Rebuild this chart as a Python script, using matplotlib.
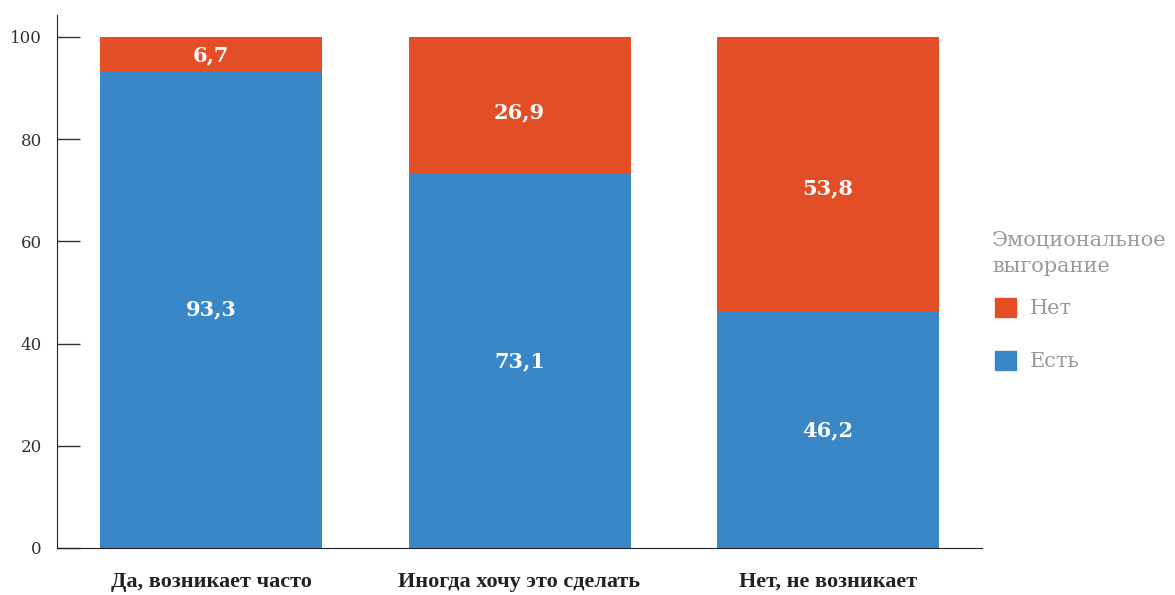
import matplotlib.pyplot as plt
from matplotlib.patches import Patch

categories = ['Да, возникает часто', 'Иногда хочу это сделать', 'Нет, не возникает']
est = [93.3, 73.1, 46.2]
net = [6.7, 26.9, 53.8]

blue = '#3a87c8'
red = '#e34e26'

plt.rcParams['font.family'] = ['DejaVu Serif']

fig = plt.figure(figsize=(11.75, 5.95), dpi=100)
ax = fig.add_axes([57 / 1175, 47 / 595, 925 / 1175, 533 / 595])

x = range(len(categories))
ax.bar(x, est, width=0.72, color=blue)
ax.bar(x, net, width=0.72, bottom=est, color=red)

for i in x:
    ax.text(i, est[i] / 2, f'{est[i]:.1f}'.replace('.', ','), ha='center', va='center',
            color='white', fontsize=15, fontweight='bold')
    # labels in the red part sit a bit below the middle, as in the original
    ax.text(i, est[i] + net[i] * 0.45, f'{net[i]:.1f}'.replace('.', ','), ha='center', va='center',
            color='white', fontsize=15, fontweight='bold')

ax.set_xlim(-0.5, 2.5)
ax.set_ylim(0, 104.3)
ax.set_yticks([0, 20, 40, 60, 80, 100])
ax.set_xticks(list(x))
ax.set_xticklabels(categories, fontsize=16, fontweight='bold', family='Liberation Serif', color='#222222')
ax.tick_params(axis='x', length=0, pad=17)
ax.tick_params(axis='y', direction='in', length=16.5, width=1, color='#333333',
               labelsize=12, labelcolor='#333333', pad=11)
for s in ['top', 'right']:
    ax.spines[s].set_visible(False)
ax.spines['left'].set_color('#222222')
ax.spines['bottom'].set_color('#222222')

fig.text(992 / 1175, 1 - 231 / 595, 'Эмоциональное\nвыгорание', ha='left', va='top',
         fontsize=15, color='#999999', linespacing=1.45)

handles = [Patch(color=red, label='Нет'), Patch(color=blue, label='Есть')]
leg = fig.legend(handles=handles, loc='center left',
                 bbox_to_anchor=(976 / 1175, 1 - 334.5 / 595), frameon=False,
                 fontsize=15, handlelength=1.0, handleheight=1.05,
                 labelspacing=1.55, handletextpad=0.7)
for t in leg.get_texts():
    t.set_color('#999999')

fig.savefig('out.png')
